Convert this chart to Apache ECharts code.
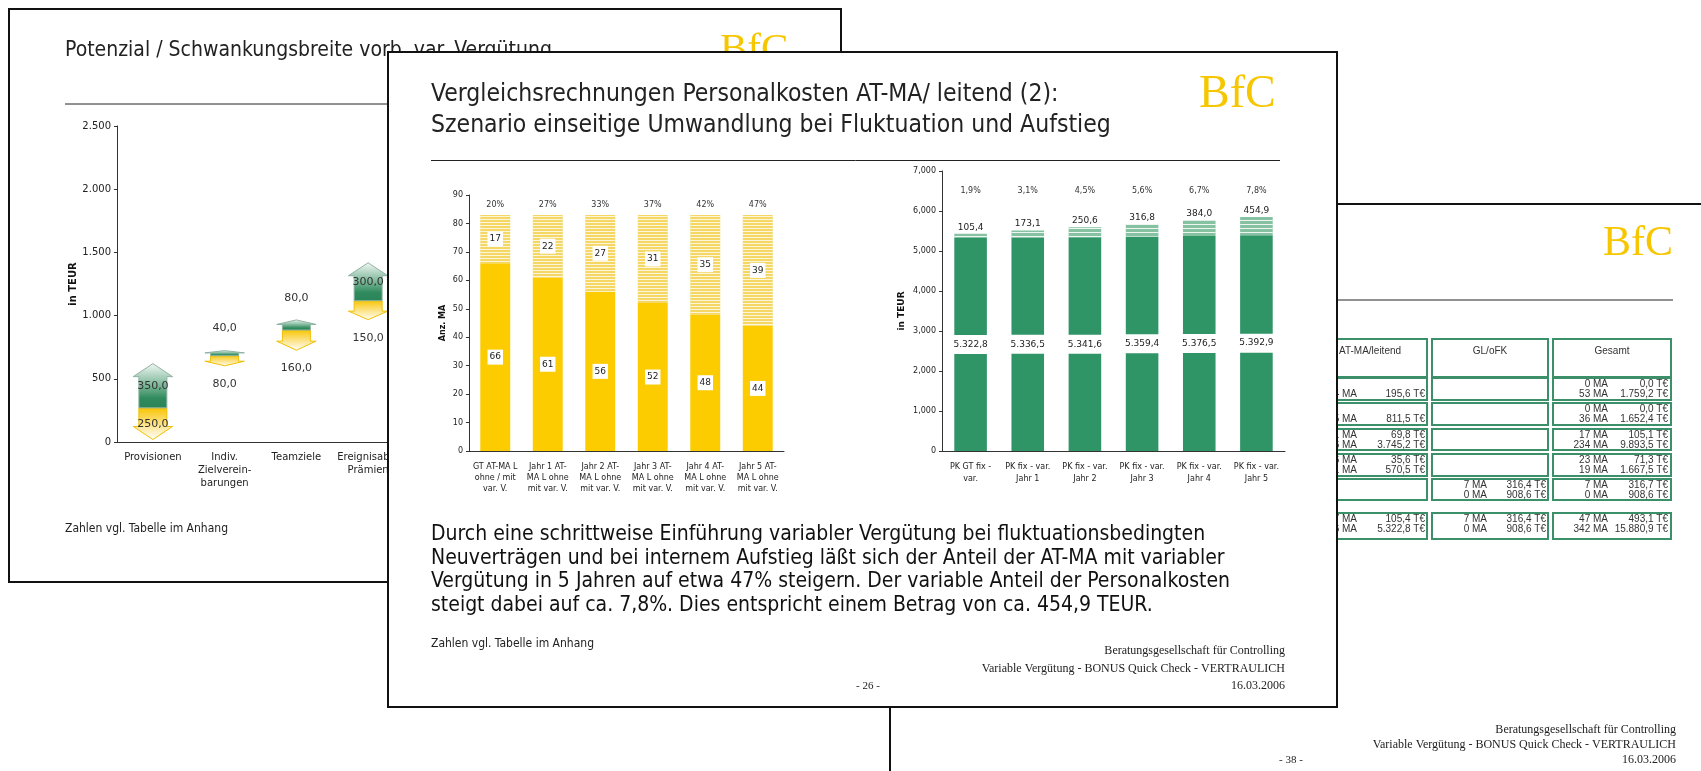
<!DOCTYPE html>
<html>
<head>
<meta charset="utf-8">
<title>Vergleichsrechnungen Personalkosten AT-MA / leitend</title>
<script src="https://cdn.jsdelivr.net/npm/echarts@6.0.0/dist/echarts.min.js"></script>
<style>
  html, body { margin: 0; padding: 0; background: #fff; }
  #main { width: 1701px; height: 771px; }
</style>
</head>
<body>
<div id="main"></div>
<script>
// --- Folie links: Potenzial / Schwankungsbreite vorb. var. Vergütung ---
const potCategories = ['Provisionen', 'Indiv.\nZielverein-\nbarungen', 'Teamziele', 'Ereignisabh.\nPrämien'];
const potBase = [270, 683, 886, 1118];
const potUp = [350, 40, 80, 300];
const potDown = [250, 80, 160, 150];

// --- Folie Mitte links: Anzahl MA ohne / mit variabler Vergütung ---
const maCategories = [
  'GT AT-MA L\nohne / mit\nvar. V.',
  'Jahr 1 AT-\nMA L ohne\nmit var. V.',
  'Jahr 2 AT-\nMA L ohne\nmit var. V.',
  'Jahr 3 AT-\nMA L ohne\nmit var. V.',
  'Jahr 4 AT-\nMA L ohne\nmit var. V.',
  'Jahr 5 AT-\nMA L ohne\nmit var. V.'
];
const maOhne = [66, 61, 56, 52, 48, 44];
const maMit = [17, 22, 27, 31, 35, 39];
const maShare = ['20%', '27%', '33%', '37%', '42%', '47%'];

// --- Folie Mitte rechts: Personalkosten fix + var. ---
const pkCategories = [
  'PK GT fix -\nvar.',
  'PK fix - var.\nJahr 1',
  'PK fix - var.\nJahr 2',
  'PK fix - var.\nJahr 3',
  'PK fix - var.\nJahr 4',
  'PK fix - var.\nJahr 5'
];
const pkFix = [5322.8, 5336.5, 5341.6, 5359.4, 5376.5, 5392.9];
const pkVar = [105.4, 173.1, 250.6, 316.8, 384.0, 454.9];
const pkShare = ['1,9%', '3,1%', '4,5%', '5,6%', '6,7%', '7,8%'];

// --- Folie rechts: Tabelle (teilweise verdeckt) ---
const tabHeader = ['AT-MA/leitend', 'GL/oFK', 'Gesamt'];
const tabRows = [
  [[null, ['4 MA', '195,6 T€']], null, [['0 MA', '0,0 T€'], ['53 MA', '1.759,2 T€']]],
  [[null, ['15 MA', '811,5 T€']], null, [['0 MA', '0,0 T€'], ['36 MA', '1.652,4 T€']]],
  [[['11 MA', '69,8 T€'], ['46 MA', '3.745,2 T€']], null, [['17 MA', '105,1 T€'], ['234 MA', '9.893,5 T€']]],
  [[['6 MA', '35,6 T€'], ['1 MA', '570,5 T€']], null, [['23 MA', '71,3 T€'], ['19 MA', '1.667,5 T€']]],
  [null, [['7 MA', '316,4 T€'], ['0 MA', '908,6 T€']], [['7 MA', '316,7 T€'], ['0 MA', '908,6 T€']]],
  [[['17 MA', '105,4 T€'], ['66 MA', '5.322,8 T€']], [['7 MA', '316,4 T€'], ['0 MA', '908,6 T€']], [['47 MA', '493,1 T€'], ['342 MA', '15.880,9 T€']]]
];

const bodyLines = [
  'Durch eine schrittweise Einführung variabler Vergütung bei fluktuationsbedingten',
  'Neuverträgen und bei internem Aufstieg läßt sich der Anteil der AT-MA mit variabler',
  'Vergütung in 5 Jahren auf etwa 47% steigern. Der variable Anteil der Personalkosten',
  'steigt dabei auf ca. 7,8%. Dies entspricht einem Betrag von ca. 454,9 TEUR.'
];
const footerLines = [
  'Beratungsgesellschaft für Controlling',
  'Variable Vergütung - BONUS Quick Check - VERTRAULICH',
  '16.03.2006'
];

const NARROW = '"Liberation Sans Narrow", "DejaVu Sans Condensed", "Open Sans", sans-serif';
const SERIF = '"Liberation Serif", "DejaVu Serif", serif';
const SMALL = '"DejaVu Sans", Verdana, sans-serif';
const TABLE = '"Liberation Sans", Arial, sans-serif';
const GOLD = '#f6c700';

// 1234.5 -> "1.234,5"
const deNum = (v, d) => {
  const parts = Number(v).toFixed(d).split('.');
  parts[0] = parts[0].replace(/\B(?=(\d{3})+(?!\d))/g, '.');
  return parts.join(',');
};

const chart = echarts.init(document.getElementById('main'), null, { renderer: 'canvas' });

function txt(x, y, text, font, extra) {
  const st = Object.assign({
    text: text, font: font, fill: '#1a1a1a',
    align: 'left', verticalAlign: 'middle', textAlign: 'left', textVerticalAlign: 'middle'
  }, extra || {});
  if (extra && extra.align) st.textAlign = extra.align;
  return { type: 'text', x: x, y: y, style: st };
}
function hline(x1, x2, y, z) {
  return { type: 'line', z: z, shape: { x1: x1, y1: y, x2: x2, y2: y }, style: { stroke: '#222', lineWidth: 1 } };
}

// Pfeile (oben gruen, unten gelb) fuer die Schwankungsbreite
function renderArrow(params, api) {
  const i = api.value(0);
  const mid = api.value(1), up = api.value(2), dn = api.value(3);
  const pMid = api.coord([i, mid]);
  const pTop = api.coord([i, mid + up]);
  const pBot = api.coord([i, mid - dn]);
  const bw = api.size([1, 0])[0];
  const cx = pMid[0];
  const sw = bw * 0.39 / 2, hw = bw * 0.55 / 2;
  const hu = Math.min(13, (pMid[1] - pTop[1]) * 0.45);
  const hd = Math.min(13, (pBot[1] - pMid[1]) * 0.45);
  const upPts = [[cx - sw, pMid[1]], [cx - sw, pTop[1] + hu], [cx - hw, pTop[1] + hu], [cx, pTop[1]],
    [cx + hw, pTop[1] + hu], [cx + sw, pTop[1] + hu], [cx + sw, pMid[1]]];
  const dnPts = [[cx - sw, pMid[1]], [cx - sw, pBot[1] - hd], [cx - hw, pBot[1] - hd], [cx, pBot[1]],
    [cx + hw, pBot[1] - hd], [cx + sw, pBot[1] - hd], [cx + sw, pMid[1]]];
  const upH = pMid[1] - pTop[1], dnH = pBot[1] - pMid[1];
  const upY = upH > 30 ? pTop[1] + upH / 2 : pTop[1] - 22;
  const dnY = dnH > 30 ? pMid[1] + dnH / 2 : pBot[1] + 18;
  const lab = (y, v) => ({
    type: 'text', x: cx, y: y,
    style: { text: deNum(v, 1), font: '11px ' + SMALL, fill: '#333', align: 'center', verticalAlign: 'middle' }
  });
  return {
    type: 'group',
    children: [
      { type: 'polygon', shape: { points: dnPts }, style: {
          fill: new echarts.graphic.LinearGradient(0, 0, 0, 1, [
            { offset: 0, color: '#f7c400' }, { offset: 0.3, color: '#fbd650' }, { offset: 1, color: '#ffffff' }]),
          stroke: '#f0c000', lineWidth: 1 } },
      { type: 'polygon', shape: { points: upPts }, style: {
          fill: new echarts.graphic.LinearGradient(0, 0, 0, 1, [
            { offset: 0, color: '#f3f8f5' }, { offset: 0.5, color: '#79b596' }, { offset: 0.78, color: '#2f8a5d' }, { offset: 1, color: '#2a8458' }]),
          stroke: '#8fb3a3', lineWidth: 1 } },
      lab(upY, up),
      lab(dnY, dn)
    ]
  };
}

// Tabelle der rechten Folie
const colMA = [1357, 1487, 1608];
const colTE = [1425, 1546, 1668];
const colX0 = [1318, 1432, 1553];
const colX1 = [1427, 1548, 1671];
const rowTop = [378, 403, 429, 454, 479, 513];
const rowBot = [400, 425, 450, 476, 500, 539];
const TAB_FONT = '10px ' + TABLE;
const TAB_GREEN = '#3b8f69';
const tableEls = [];
for (let c = 0; c < 3; c++) {
  tableEls.push({ type: 'rect', z: 1, shape: { x: colX0[c], y: 339, width: colX1[c] - colX0[c], height: 38 },
    style: { fill: 'none', stroke: TAB_GREEN, lineWidth: 2 } });
  const hx = c === 0 ? 1339 : (colX0[c] + colX1[c]) / 2;
  tableEls.push(Object.assign(txt(hx, 351, tabHeader[c], TAB_FONT, { align: c === 0 ? 'left' : 'center', fill: '#333' }), { z: 1 }));
}
tabRows.forEach((row, r) => {
  for (let c = 0; c < 3; c++) {
    tableEls.push({ type: 'rect', z: 1, shape: { x: colX0[c], y: rowTop[r], width: colX1[c] - colX0[c], height: rowBot[r] - rowTop[r] },
      style: { fill: 'none', stroke: TAB_GREEN, lineWidth: 2 } });
    const cell = row[c];
    if (!cell) continue;
    cell.forEach((ln, k) => {
      if (!ln) return;
      const y = rowTop[r] + 6 + k * 10.5;
      tableEls.push(Object.assign(txt(colMA[c], y, ln[0], TAB_FONT, { align: 'right', fill: '#333' }), { z: 1 }));
      tableEls.push(Object.assign(txt(colTE[c], y, ln[1], TAB_FONT, { align: 'right', fill: '#333' }), { z: 1 }));
    });
  }
});

const graphics = [
  // linke Folie (hinten)
  { type: 'rect', z: 0, shape: { x: 9, y: 9, width: 832, height: 573 }, style: { fill: 'none', stroke: '#111', lineWidth: 2 } },
  Object.assign(txt(65, 51, 'Potenzial / Schwankungsbreite vorb. var. Vergütung', '21px ' + NARROW, { fill: '#222' }), { z: 1 }),
  hline(65, 800, 104, 1),
  Object.assign(txt(720, 50, 'BfC', '41px ' + SERIF, { fill: GOLD }), { z: 1 }),
  Object.assign(txt(65, 529, 'Zahlen vgl. Tabelle im Anhang', '12px ' + NARROW, { fill: '#222' }), { z: 1 }),

  // rechte Folie (hinten)
  { type: 'rect', z: 0, shape: { x: 890, y: 204, width: 900, height: 700 }, style: { fill: 'none', stroke: '#111', lineWidth: 2 } },
  Object.assign(txt(1603, 244, 'BfC', '42px ' + SERIF, { fill: GOLD }), { z: 1 }),
  hline(1338, 1673, 300, 1),
  ...tableEls,
  ...footerLines.map((s, k) => Object.assign(txt(1676, 730 + k * 15, s, '12px ' + SERIF, { align: 'right', fill: '#222' }), { z: 1 })),
  Object.assign(txt(1291, 760, '- 38 -', '11px ' + SERIF, { align: 'center', fill: '#222' }), { z: 1 }),

  // mittlere Folie (vorn)
  { type: 'rect', z: 5, shape: { x: 388, y: 52, width: 949, height: 655 }, style: { fill: '#fff', stroke: '#111', lineWidth: 2 } },
  Object.assign(txt(431, 95, 'Vergleichsrechnungen Personalkosten AT-MA/ leitend (2):', '24.5px ' + NARROW, { fill: '#222' }), { z: 11 }),
  Object.assign(txt(431, 126, 'Szenario einseitige Umwandlung bei Fluktuation und Aufstieg', '24.5px ' + NARROW, { fill: '#222' }), { z: 11 }),
  Object.assign(txt(1199, 95, 'BfC', '46px ' + SERIF, { fill: GOLD }), { z: 11 }),
  hline(431, 1280, 160.5, 11),
  ...bodyLines.map((s, k) => Object.assign(txt(431, 535 + k * 23.5, s, '21px ' + NARROW, { fill: '#111' }), { z: 11 })),
  Object.assign(txt(431, 644, 'Zahlen vgl. Tabelle im Anhang', '12px ' + NARROW, { fill: '#222' }), { z: 11 }),
  ...footerLines.map((s, k) => Object.assign(txt(1285, 651 + k * 17.5, s, '12px ' + SERIF, { align: 'right', fill: '#222' }), { z: 11 })),
  Object.assign(txt(868, 686, '- 26 -', '11px ' + SERIF, { align: 'center', fill: '#222' }), { z: 11 })
];

const axisLineStyle = { lineStyle: { color: '#333', width: 1 } };
const hatch = (c) => ({ symbol: 'rect', symbolSize: 1, dashArrayX: [1, 0], dashArrayY: [1, 2], color: c, rotation: 0 });

const option = {
  animation: false,
  backgroundColor: '#fff',
  textStyle: { fontFamily: SMALL },
  grid: [
    { left: 117, top: 126, width: 287, height: 316 },
    { left: 469, top: 195, width: 315, height: 256, z: 10 },
    { left: 942, top: 171, width: 343, height: 280, z: 10 }
  ],
  xAxis: [
    { gridIndex: 0, type: 'category', data: potCategories, z: 0,
      axisLine: axisLineStyle, axisTick: { length: 4, lineStyle: { color: '#333' } },
      axisLabel: { interval: 0, fontSize: 10, lineHeight: 13, color: '#222', margin: 9, fontFamily: SMALL } },
    { gridIndex: 1, type: 'category', data: maCategories, z: 10,
      axisLine: axisLineStyle, axisTick: { length: 3, lineStyle: { color: '#333' } },
      axisLabel: { interval: 0, fontSize: 8, lineHeight: 11, color: '#222', margin: 10, fontFamily: SMALL } },
    { gridIndex: 1, type: 'category', data: maShare, position: 'top', z: 10,
      axisLine: { show: false }, axisTick: { show: false },
      axisLabel: { inside: true, margin: 6, fontSize: 8, color: '#333', fontFamily: SMALL } },
    { gridIndex: 2, type: 'category', data: pkCategories, z: 10,
      axisLine: axisLineStyle, axisTick: { length: 3, lineStyle: { color: '#333' } },
      axisLabel: { interval: 0, fontSize: 8, lineHeight: 12, color: '#222', margin: 10, fontFamily: SMALL } },
    { gridIndex: 2, type: 'category', data: pkShare, position: 'top', z: 10,
      axisLine: { show: false }, axisTick: { show: false },
      axisLabel: { inside: true, margin: 16, fontSize: 8, color: '#333', fontFamily: SMALL } }
  ],
  yAxis: [
    { gridIndex: 0, type: 'value', min: 0, max: 2500, interval: 500, z: 0,
      splitLine: { show: false }, axisLine: { show: true, lineStyle: { color: '#333' } },
      axisTick: { show: true, length: 3, lineStyle: { color: '#333' } },
      axisLabel: { fontSize: 10, color: '#222', margin: 6, formatter: (v) => deNum(v, 0), fontFamily: SMALL },
      name: 'in TEUR', nameLocation: 'middle', nameGap: 38, nameRotate: 90,
      nameTextStyle: { fontSize: 10, fontWeight: 'bold', color: '#111', fontFamily: SMALL } },
    { gridIndex: 1, type: 'value', min: 0, max: 90, interval: 10, z: 10,
      splitLine: { show: false }, axisLine: { show: true, lineStyle: { color: '#333' } },
      axisTick: { show: true, length: 3, lineStyle: { color: '#333' } },
      axisLabel: { fontSize: 8, color: '#222', margin: 6, fontFamily: SMALL },
      name: 'Anz. MA', nameLocation: 'middle', nameGap: 22, nameRotate: 90,
      nameTextStyle: { fontSize: 8, fontWeight: 'bold', color: '#111', fontFamily: SMALL } },
    { gridIndex: 2, type: 'value', min: 0, max: 7000, interval: 1000, z: 10,
      splitLine: { show: false }, axisLine: { show: true, lineStyle: { color: '#333' } },
      axisTick: { show: true, length: 3, lineStyle: { color: '#333' } },
      axisLabel: { fontSize: 8, color: '#222', margin: 6, fontFamily: SMALL,
        formatter: (v) => v.toLocaleString('en-US') },
      name: 'in TEUR', nameLocation: 'middle', nameGap: 36, nameRotate: 90,
      nameTextStyle: { fontSize: 9, fontWeight: 'bold', color: '#111', fontFamily: SMALL } }
  ],
  series: [
    { type: 'custom', name: 'Schwankungsbreite', xAxisIndex: 0, yAxisIndex: 0, z: 2,
      renderItem: renderArrow,
      data: potCategories.map((c, i) => [i, potBase[i], potUp[i], potDown[i]]) },
    { type: 'bar', name: 'ohne var. V.', xAxisIndex: 1, yAxisIndex: 1, stack: 'ma', z: 10,
      barWidth: '57%', data: maOhne, itemStyle: { color: '#fccb00' },
      label: { show: true, position: 'inside', backgroundColor: '#fff', padding: [3, 2],
        color: '#222', fontSize: 9, fontFamily: SMALL } },
    { type: 'bar', name: 'mit var. V.', xAxisIndex: 1, yAxisIndex: 1, stack: 'ma', z: 10,
      barWidth: '57%', data: maMit,
      itemStyle: { color: '#f4d765', decal: hatch('rgba(255,255,255,0.75)') },
      label: { show: true, position: 'inside', backgroundColor: '#fff', padding: [3, 2],
        color: '#222', fontSize: 9, fontFamily: SMALL } },
    { type: 'bar', name: 'PK fix', xAxisIndex: 3, yAxisIndex: 2, stack: 'pk', z: 10,
      barWidth: '57%', data: pkFix, itemStyle: { color: '#2f9466' },
      label: { show: true, position: 'inside', backgroundColor: '#fff', padding: [5, 2],
        color: '#222', fontSize: 9, fontFamily: SMALL, formatter: (p) => deNum(p.value, 1) } },
    { type: 'bar', name: 'PK var.', xAxisIndex: 3, yAxisIndex: 2, stack: 'pk', z: 10,
      barWidth: '57%', data: pkVar,
      itemStyle: { color: '#86c2a2', decal: { symbol: 'rect', symbolSize: 1, dashArrayX: [1, 0], dashArrayY: [1, 3], color: 'rgba(255,255,255,0.85)', rotation: 0 } },
      label: { show: true, position: 'top', distance: 2, color: '#222', fontSize: 9, fontFamily: SMALL,
        formatter: (p) => deNum(p.value, 1) } }
  ],
  graphic: { elements: graphics }
};

chart.setOption(option);
window.addEventListener('resize', () => chart.resize());
</script>
</body>
</html>
